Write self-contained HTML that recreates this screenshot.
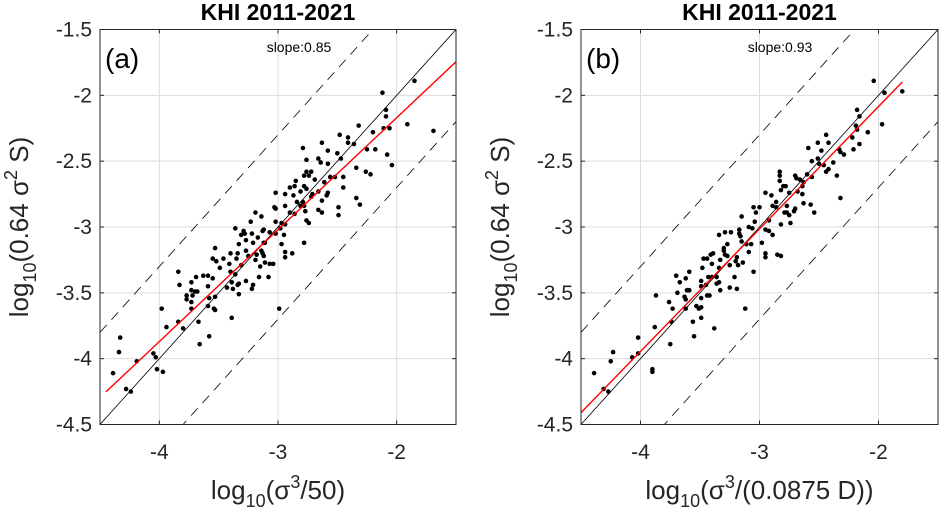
<!DOCTYPE html>
<html><head><meta charset="utf-8"><style>
html,body{margin:0;padding:0;background:#fff}
svg{display:block;font-family:"Liberation Sans",sans-serif}
</style></head><body>
<svg id="chart" width="939" height="511" viewBox="0 0 939 511" xmlns="http://www.w3.org/2000/svg"></svg>
<script>
const xTicks=[-4,-3,-2];
const yTicks=[-1.5,-2,-2.5,-3,-3.5,-4,-4.5];
const yTickLabels=["-1.5","-2","-2.5","-3","-3.5","-4","-4.5"];
const xTickLabels=["-4","-3","-2"];
const slopeA=0.85, interceptA=-0.47, fitStartA=-4.45, fitEndA=-1.5;
const slopeB=0.93, interceptB=-0.225, fitStartB=-4.5, fitEndB=-1.8;
const bandOffset=0.7;
const xA=[-2.12,-1.85,-2.09,-2.09,-2.11,-2.06,-1.91,-1.69,-2.08,-2.04,-2.20,-2.32,-2.48,-2.41,-2.41,-2.36,-2.25,-2.18,-2.63,-2.79,-2.58,-2.50,-2.47,-2.66,-2.64,-2.58,-2.76,-2.34,-2.26,-2.22,-2.45,-2.52,-2.56,-2.76,-2.72,-2.78,-2.74,-2.69,-2.61,-2.85,-2.86,-2.90,-2.81,-2.78,-2.76,-3.02,-2.94,-2.87,-2.71,-2.72,-2.66,-2.58,-2.59,-2.63,-2.45,-2.34,-2.31,-2.49,-2.49,-2.66,-2.63,-2.84,-2.79,-2.81,-2.78,-2.77,-2.76,-2.74,-2.94,-2.90,-2.86,-3.03,-3.02,-3.02,-2.97,-2.94,-2.98,-2.95,-3.02,-3.07,-3.13,-3.12,-3.19,-3.14,-3.23,-3.36,-3.29,-3.31,-3.28,-3.22,-3.27,-3.33,-3.21,-3.17,-3.12,-3.11,-2.97,-2.94,-2.94,-2.88,-2.78,-3.14,-3.13,-3.12,-3.18,-3.27,-3.25,-3.19,-3.15,-3.11,-3.07,-3.04,-3.34,-3.35,-3.40,-3.46,-3.52,-3.55,-3.53,-3.49,-3.41,-3.40,-3.36,-3.31,-3.27,-3.33,-3.34,-3.38,-3.39,-3.43,-3.33,-3.21,-3.22,-3.16,-3.08,-2.99,-3.84,-3.83,-3.73,-3.69,-3.63,-3.59,-3.55,-3.59,-3.70,-3.68,-3.73,-3.72,-3.77,-3.77,-3.73,-3.73,-3.58,-3.53,-3.59,-3.54,-3.53,-3.39,-3.67,-3.58,-3.66,-3.84,-3.80,-3.94,-3.98,-4.33,-4.34,-4.39,-4.19,-4.05,-4.03,-4.02,-3.97,-4.28,-4.24];
const yA=[-1.98,-1.89,-2.11,-2.16,-2.25,-2.25,-2.22,-2.27,-2.45,-2.53,-2.28,-2.23,-2.30,-2.32,-2.36,-2.37,-2.41,-2.41,-2.36,-2.40,-2.42,-2.44,-2.48,-2.48,-2.51,-2.52,-2.49,-2.55,-2.58,-2.60,-2.62,-2.62,-2.62,-2.58,-2.58,-2.61,-2.61,-2.64,-2.66,-2.65,-2.69,-2.70,-2.73,-2.69,-2.71,-2.74,-2.75,-2.76,-2.75,-2.77,-2.73,-2.74,-2.76,-2.80,-2.70,-2.78,-2.83,-2.85,-2.91,-2.87,-2.89,-2.81,-2.81,-2.84,-2.84,-2.88,-2.95,-2.97,-2.84,-2.89,-2.90,-2.85,-2.86,-2.96,-2.97,-2.98,-3.01,-3.06,-3.05,-3.04,-3.03,-3.02,-2.89,-2.92,-2.96,-3.01,-3.03,-3.06,-3.05,-3.05,-3.10,-3.13,-3.12,-3.08,-3.12,-3.12,-3.13,-3.19,-3.23,-3.20,-3.12,-3.18,-3.20,-3.22,-3.21,-3.18,-3.22,-3.25,-3.30,-3.27,-3.28,-3.28,-3.20,-3.24,-3.20,-3.24,-3.26,-3.24,-3.16,-3.31,-3.28,-3.34,-3.36,-3.29,-3.41,-3.43,-3.44,-3.47,-3.42,-3.46,-3.51,-3.44,-3.47,-3.38,-3.38,-3.62,-3.34,-3.44,-3.42,-3.38,-3.37,-3.37,-3.39,-3.45,-3.49,-3.49,-3.48,-3.52,-3.52,-3.55,-3.57,-3.62,-3.54,-3.53,-3.60,-3.62,-3.63,-3.69,-3.72,-3.83,-3.89,-3.72,-3.77,-3.76,-3.62,-3.84,-3.95,-4.11,-4.02,-3.96,-3.99,-4.08,-4.10,-4.23,-4.25];
const xB=[-2.04,-1.95,-1.80,-2.18,-2.16,-2.19,-2.18,-2.09,-1.97,-2.22,-2.16,-2.21,-2.44,-2.42,-2.51,-2.59,-2.48,-2.33,-2.32,-2.29,-2.56,-2.51,-2.50,-2.46,-2.42,-2.44,-2.38,-2.35,-2.32,-2.60,-2.56,-2.70,-2.69,-2.66,-2.63,-2.64,-2.83,-2.83,-2.83,-2.80,-2.78,-2.82,-2.75,-2.68,-2.64,-2.63,-2.57,-2.54,-2.95,-2.90,-2.86,-2.89,-2.86,-2.77,-2.70,-2.71,-2.79,-2.77,-2.75,-2.74,-2.82,-3.05,-3.03,-3.00,-3.15,-2.92,-3.04,-3.09,-3.06,-2.95,-2.92,-2.89,-3.34,-3.29,-3.24,-3.17,-3.17,-3.16,-3.15,-3.11,-3.07,-3.27,-3.30,-3.30,-3.29,-3.27,-3.19,-3.20,-3.14,-3.18,-3.25,-3.09,-2.98,-2.95,-2.95,-2.85,-2.82,-3.05,-3.39,-3.41,-3.47,-3.44,-3.48,-3.40,-3.33,-3.34,-3.36,-3.40,-3.43,-3.34,-3.36,-3.45,-3.49,-3.49,-3.33,-3.25,-3.19,-3.21,-3.49,-3.44,-3.42,-3.49,-3.51,-3.53,-3.49,-3.56,-3.55,-3.38,-3.12,-3.70,-3.67,-3.62,-3.59,-3.69,-3.61,-3.60,-3.59,-3.63,-3.62,-3.62,-3.73,-3.76,-3.74,-3.75,-3.87,-3.88,-4.02,-4.02,-4.07,-4.23,-4.25,-4.39,-3.90,-3.90,-4.31,-4.27];
const yB=[-1.89,-1.98,-1.97,-2.11,-2.16,-2.23,-2.26,-2.28,-2.22,-2.32,-2.37,-2.41,-2.30,-2.36,-2.36,-2.40,-2.42,-2.41,-2.43,-2.45,-2.50,-2.48,-2.52,-2.53,-2.56,-2.58,-2.51,-2.61,-2.78,-2.60,-2.62,-2.61,-2.63,-2.64,-2.66,-2.69,-2.58,-2.61,-2.65,-2.69,-2.69,-2.72,-2.74,-2.73,-2.75,-2.82,-2.83,-2.89,-2.74,-2.76,-2.81,-2.84,-2.85,-2.84,-2.86,-2.88,-2.89,-2.89,-2.91,-2.97,-2.98,-2.85,-2.89,-2.85,-2.92,-2.95,-2.96,-3.00,-3.01,-3.02,-3.03,-3.06,-3.06,-3.04,-3.04,-3.02,-3.05,-3.07,-3.11,-3.13,-3.13,-3.13,-3.16,-3.18,-3.21,-3.22,-3.23,-3.26,-3.27,-3.29,-3.29,-3.19,-3.12,-3.20,-3.23,-3.21,-3.22,-3.34,-3.20,-3.21,-3.24,-3.24,-3.31,-3.28,-3.25,-3.31,-3.38,-3.38,-3.38,-3.42,-3.43,-3.44,-3.41,-3.45,-3.48,-3.46,-3.47,-3.38,-3.54,-3.52,-3.52,-3.61,-3.62,-3.60,-3.69,-3.72,-3.83,-3.77,-3.62,-3.37,-3.42,-3.39,-3.34,-3.50,-3.48,-3.48,-3.48,-3.53,-3.55,-3.62,-3.62,-3.57,-3.72,-3.89,-3.52,-3.76,-3.84,-3.96,-3.99,-3.95,-4.02,-4.11,-4.08,-4.10,-4.23,-4.25];

const NS="http://www.w3.org/2000/svg";
const svg=document.getElementById('chart');
function mk(tag,attrs,parent){const e=document.createElementNS(NS,tag);for(const k in attrs)e.setAttribute(k,attrs[k]);(parent||svg).appendChild(e);return e;}

function panel(cfg){
  const L=cfg.left,R=cfg.right,T=29.5,B=424.5;
  const xs=v=>L+(v+4.5)/3*(R-L);
  const ys=v=>B-(v+4.5)/3*(B-T);
  const g=mk('g',{});
  
  
  const clip=mk('clipPath',{id:'clip'+cfg.id},g);
  mk('rect',{x:L,y:T,width:R-L,height:B-T},clip);
  xTicks.forEach(t=>{const l=mk('line',{x1:xs(t),x2:xs(t),y1:T,y2:B,stroke:'#dcdcdc','stroke-width':1},g);});
  yTicks.forEach(t=>{const l=mk('line',{x1:L,x2:R,y1:ys(t),y2:ys(t),stroke:'#dcdcdc','stroke-width':1},g);});
  const cg=mk('g',{'clip-path':'url(#clip'+cfg.id+')'},g);
  const lo=-4.5,hi=-1.5;
  const one=mk('line',{x1:xs(lo),y1:ys(lo),x2:xs(hi),y2:ys(hi),stroke:'#000','stroke-width':0.8},cg);
  
  const up=mk('line',{x1:xs(lo),y1:ys(lo+bandOffset),x2:xs(hi),y2:ys(hi+bandOffset),stroke:'#000','stroke-width':0.8,'stroke-dasharray':'10,7'},cg);
  
  const dn=mk('line',{x1:xs(lo),y1:ys(lo-bandOffset),x2:xs(hi),y2:ys(hi-bandOffset),stroke:'#000','stroke-width':0.8,'stroke-dasharray':'10,7'},cg);
  
  cfg.xv.forEach((v,i)=>{const c=mk('circle',{cx:xs(v),cy:ys(cfg.yv[i]),r:2.3,fill:'#000'},cg);});
  const f=mk('line',{x1:xs(cfg.fs),y1:ys(cfg.slope*cfg.fs+cfg.ic),x2:xs(cfg.fe),y2:ys(cfg.slope*cfg.fe+cfg.ic),stroke:'#ff0000','stroke-width':1.4},cg);
  
  const bx=mk('rect',{x:L,y:T,width:R-L,height:B-T,fill:'none',stroke:'#262626','stroke-width':1},g);
  
  xTicks.forEach((t,i)=>{
    mk('line',{x1:xs(t),x2:xs(t),y1:B,y2:B-4,stroke:'#262626'},g);
    mk('line',{x1:xs(t),x2:xs(t),y1:T,y2:T+4,stroke:'#262626'},g);
    const tx=mk('text',{x:xs(t),y:459,'text-anchor':'middle','font-size':21,fill:'#262626'},g);
    tx.textContent=xTickLabels[i];
    
  });
  yTicks.forEach((t,i)=>{
    mk('line',{x1:L,x2:L+4,y1:ys(t),y2:ys(t),stroke:'#262626'},g);
    mk('line',{x1:R,x2:R-4,y1:ys(t),y2:ys(t),stroke:'#262626'},g);
    const tx=mk('text',{x:L-8,y:ys(t)+7,'text-anchor':'end','font-size':21,fill:'#262626'},g);
    tx.textContent=yTickLabels[i];
    
  });
  const ti=mk('text',{x:(L+R)/2,y:20,'text-anchor':'middle','font-size':23,'font-weight':'bold',fill:'#000'},g);
  ti.textContent='KHI 2011-2021';
  const pl=mk('text',{x:L+5,y:68,'font-size':28,fill:'#000'},g);
  pl.textContent=cfg.letter;
  const sl=mk('text',{x:L+199,y:52,'text-anchor':'middle','font-size':14,fill:'#000'},g);
  sl.textContent='slope:'+cfg.slope.toFixed(2);
  const xl=mk('text',{x:(L+R)/2,y:499,'text-anchor':'middle','font-size':26,fill:'#262626'},g);
  xl.innerHTML=cfg.xlabel;
  const yl=mk('text',{x:0,y:0,'text-anchor':'middle','font-size':26,fill:'#262626',transform:'translate('+(L-72)+','+((T+B)/2)+') rotate(-90)'},g);
  yl.innerHTML='log<tspan font-size="18" dy="8">10</tspan><tspan dy="-8">(0.64 σ</tspan><tspan font-size="18" dy="-11">2</tspan><tspan dy="11"> S)</tspan>';
  
}
panel({id:'a',name:'panel-a',left:100,right:456,xv:xA,yv:yA,slope:slopeA,ic:interceptA,fs:fitStartA,fe:fitEndA,letter:'(a)',
  xlabel:'log<tspan font-size="18" dy="8">10</tspan><tspan dy="-8">(σ</tspan><tspan font-size="18" dy="-11">3</tspan><tspan dy="11">/50)</tspan>'});
panel({id:'b',name:'panel-b',left:581,right:938,xv:xB,yv:yB,slope:slopeB,ic:interceptB,fs:fitStartB,fe:fitEndB,letter:'(b)',
  xlabel:'log<tspan font-size="18" dy="8">10</tspan><tspan dy="-8">(σ</tspan><tspan font-size="18" dy="-11">3</tspan><tspan dy="11">/(0.0875 D))</tspan>'});
</script>
</body></html>
